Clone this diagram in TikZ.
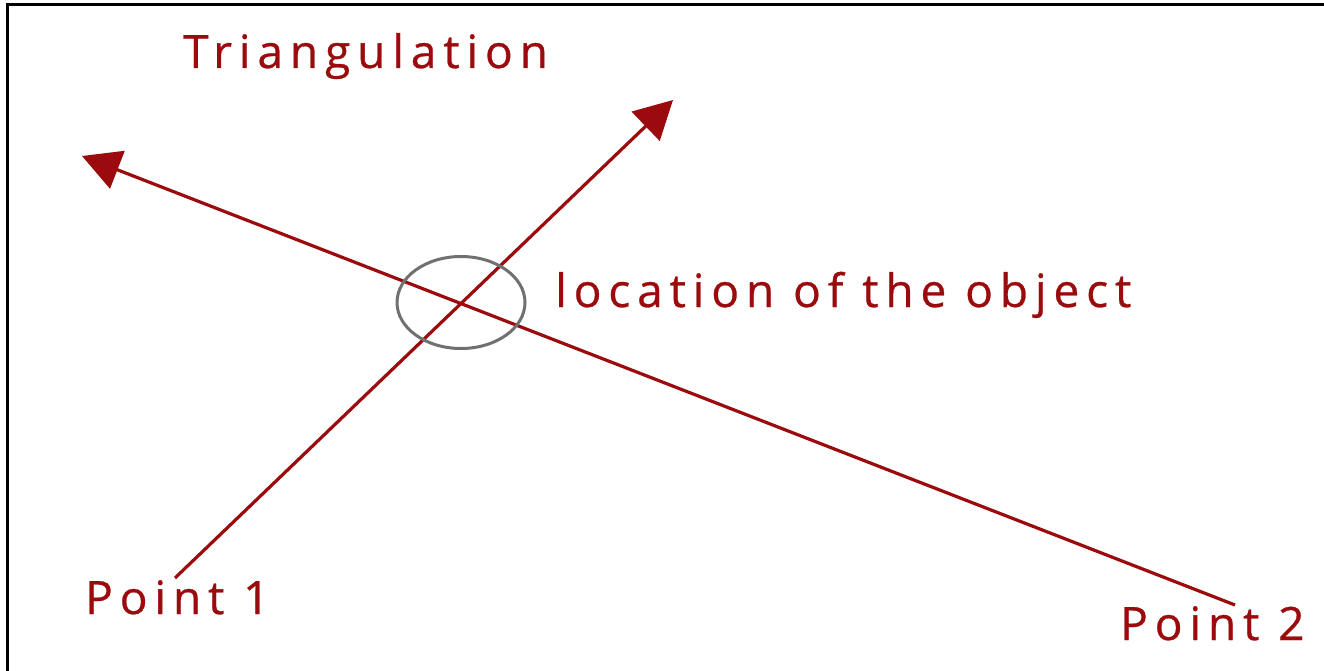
\documentclass[tikz,border=0pt]{standalone}
\usepackage{fontspec}
\setmainfont{Open Sans}[LetterSpace=15,FakeBold=0.6]
\usetikzlibrary{arrows.meta}
\definecolor{darkred}{RGB}{155,10,12}
\definecolor{ringgray}{RGB}{112,112,112}
\tikzset{
  ray/.style={draw=darkred, line width=3.2pt, -{Triangle[length=38pt,width=40pt]}},
  lbl/.style={text=darkred, anchor=base west, inner sep=0pt, font=\fontsize{46}{50}\selectfont},
}
\begin{document}
\begin{tikzpicture}[x=1pt,y=-1pt]
\useasboundingbox (0,0) rectangle (1324,671);
\fill[white] (0,0) rectangle (1324,671);
\draw[black, line width=3pt] (7.5,675) -- (7.5,4.5) -- (1330,4.5);
% connectors
\coordinate (s1) at (175,578);
\coordinate (e1) at (673,100);
\coordinate (s2) at (1235,605);
\coordinate (e2) at (82,156);
\draw[ray] (s1) -- (e1);
\draw[ray] (s2) -- (e2);
\draw[draw=ringgray, line width=3pt] (461,302.5) ellipse [x radius=64, y radius=46];
% labels
\node[lbl] (title) at (183,68) {Triangulation};
\node[lbl] (loc) at (555,307) {location of the object};
\node[lbl] (pt1) at (85,614) {Point 1};
\node[lbl] (pt2) at (1120,640) {Point 2};
\end{tikzpicture}
\end{document}
